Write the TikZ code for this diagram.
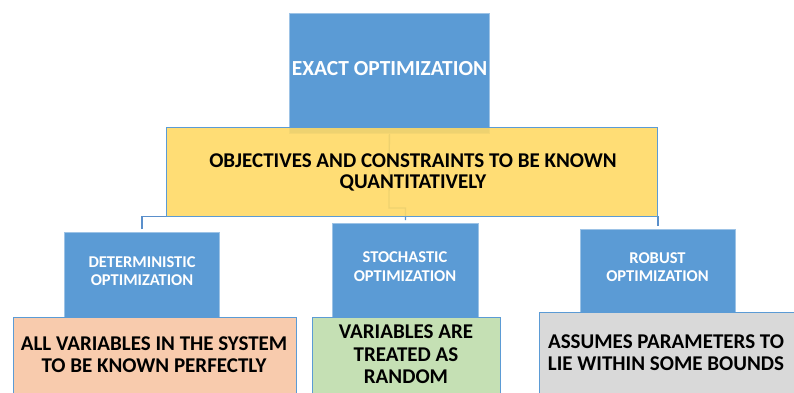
\documentclass[tikz,border=0pt]{standalone}
\usepackage{fontspec}
\setmainfont{Carlito}
\definecolor{bfill}{HTML}{5B9BD5}
\definecolor{bline}{HTML}{9DC3E6}
\definecolor{cline}{HTML}{5A8FCB}
\definecolor{yfill}{HTML}{FFD966}
\definecolor{pfill}{HTML}{F8CBAD}
\definecolor{gfill}{HTML}{C5E0B4}
\definecolor{grfill}{HTML}{D9D9D9}
\begin{document}
\begin{tikzpicture}[x=1pt,y=-1pt,
  box/.style={draw=bline, line width=0.8pt, inner sep=0pt, anchor=north west},
  bluebox/.style={box, fill=bfill},
  lowbox/.style={box, draw=bfill, line width=1.1pt},
  conn/.style={draw=cline, line width=1.3pt},
  wtxt/.style={text=white, font=\bfseries\fontsize{16.5}{18.5}\selectfont, align=center, inner sep=0pt},
  btxt/.style={text=black, font=\bfseries\fontsize{21}{22}\selectfont, align=center, inner sep=0pt},
]
\useasboundingbox (0,0) rectangle (794,392);
% top box
\node[bluebox, minimum width=200pt, minimum height=120pt] (top) at (289,13) {};
\node[wtxt, font=\bfseries\fontsize{21.5}{22}\selectfont] (ttop) at (389.5,68.5) {EXACT OPTIMIZATION};
% level-2 boxes
\node[bluebox, minimum width=155pt, minimum height=85pt] (d1) at (64,232) {};
\node[bluebox, minimum width=146pt, minimum height=94pt] (d2) at (332,223) {};
\node[bluebox, minimum width=155pt, minimum height=83pt] (d3) at (580,229) {};
% connectors
\coordinate (bus) at (389,216.5);
\coordinate (elb) at (389,208);
\draw[conn] (top.south) -- (elb) -- (elb -| d2.north) -- ([yshift=3pt]d2.north);
\draw[conn] ([yshift=3pt]d1.north) -- (d1.north |- bus) -- (d3.north |- bus) -- ([yshift=3pt]d3.north);
% yellow box (semi-transparent, shows lines behind it)
\node[box, draw=bfill, line width=1.1pt, fill=yfill, fill opacity=0.9, draw opacity=1, minimum width=491pt, minimum height=89pt] (obj) at (166,127) {};
\node[btxt, font=\bfseries\fontsize{21}{21.7}\selectfont] (tobj) at (413,172.5) {OBJECTIVES AND CONSTRAINTS TO BE KNOWN\\QUANTITATIVELY};
% level-2 texts
\node[wtxt] (t1) at (142,271) {DETERMINISTIC\\OPTIMIZATION};
\node[wtxt] (t2) at (405,266.5) {STOCHASTIC\\OPTIMIZATION};
\node[wtxt] (t3) at (657.5,267) {ROBUST\\OPTIMIZATION};
% bottom boxes
\node[lowbox, fill=pfill, minimum width=283pt, minimum height=90pt] (p1) at (13,317) {};
\node[lowbox, fill=gfill, minimum width=188pt, minimum height=90pt] (p2) at (312,317) {};
\node[lowbox, fill=grfill, minimum width=270pt, minimum height=95pt] (p3) at (539,312) {};
\node[btxt] (u1) at (154,355) {ALL VARIABLES IN THE SYSTEM\\TO BE KNOWN PERFECTLY};
\node[btxt, font=\bfseries\fontsize{21}{22.5}\selectfont] (u2) at (406,354.5) {VARIABLES ARE\\TREATED AS\\RANDOM};
\node[btxt] (u3) at (666,352.5) {ASSUMES PARAMETERS TO\\LIE WITHIN SOME BOUNDS};
\end{tikzpicture}
\end{document}
